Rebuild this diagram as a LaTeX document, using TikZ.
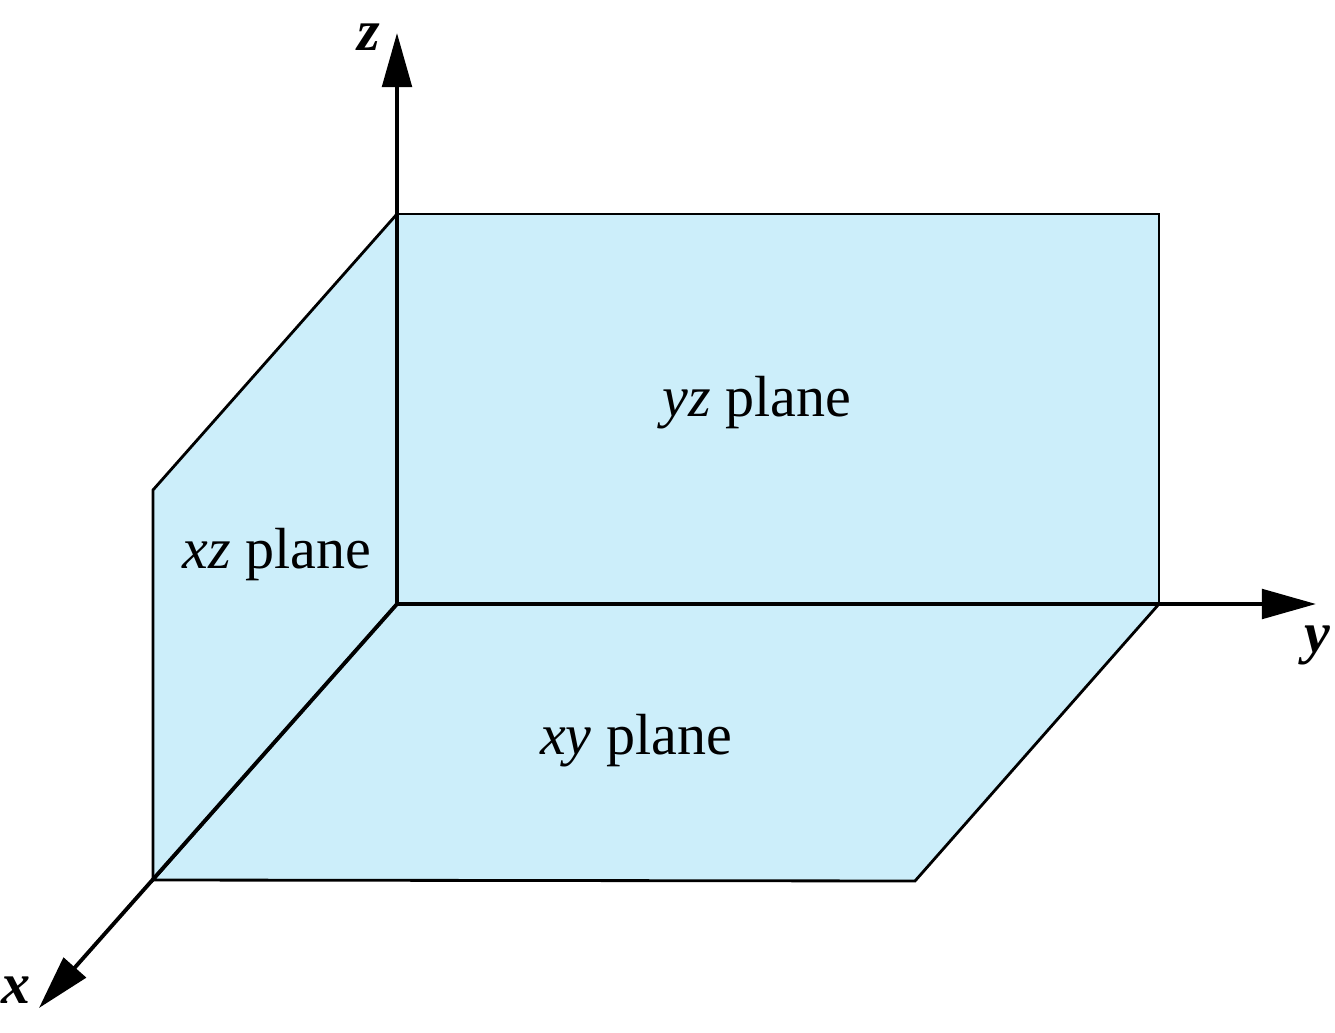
\documentclass[tikz,border=0pt]{standalone}
\usepackage{fontspec}
\setmainfont{Liberation Serif}
\usepackage{xcolor}
\usetikzlibrary{arrows.meta}
\definecolor{planefill}{RGB}{204,238,250}
\tikzset{
  plane/.style={fill=planefill, draw=black, line width=0.8pt},
  axis/.style={line width=1.1pt, -{Triangle[length=15.4pt,width=8.4pt]}},
  axislabel/.style={font=\fontsize{16.5}{19}\selectfont\bfseries\itshape},
  planelabel/.style={font=\fontsize{16.5}{19}\selectfont}
}
\begin{document}
\begin{tikzpicture}[x=0.01cm, y=-0.01cm]
  \useasboundingbox (0,0) rectangle (1335,1033);
  % Corners of the three coordinate planes (pixel grid, y downwards)
  \coordinate (O) at (397,604);
  \coordinate (Zc) at (397,214);
  \coordinate (Yc) at (1159,604);
  \coordinate (YZc) at (1159,214);
  \coordinate (Xc) at (153,880);
  \coordinate (XZc) at (153,490);
  \coordinate (XYc) at (915,881);
  % Planes
  \draw[plane] (O) -- (Zc) -- (YZc) -- (Yc) -- cycle;
  \draw[plane] (O) -- (Zc) -- (XZc) -- (Xc) -- cycle;
  \draw[plane] (O) -- (Yc) -- (XYc) -- (Xc) -- cycle;
  % Axes
  \coordinate (Xtip) at (39,1008);
  \coordinate (Ytip) at (1316,604);
  \coordinate (Ztip) at (397,33);
  \draw[axis] (O) -- (Xtip);
  \draw[axis] (O) -- (Ytip);
  \draw[axis] (O) -- (Ztip);
  % Axis labels
  \node[axislabel] (xlab) at (16,990) {x};
  \node[axislabel] (ylab) at (1317,645) {y};
  \node[axislabel] (zlab) at (369,37) {z};
  % Plane labels
  \node[planelabel] (yzlab) at (757,403) {\textit{yz} plane};
  \node[planelabel] (xzlab) at (277,555) {\textit{xz} plane};
  \node[planelabel] (xylab) at (636,741) {\textit{xy} plane};
\end{tikzpicture}
\end{document}
